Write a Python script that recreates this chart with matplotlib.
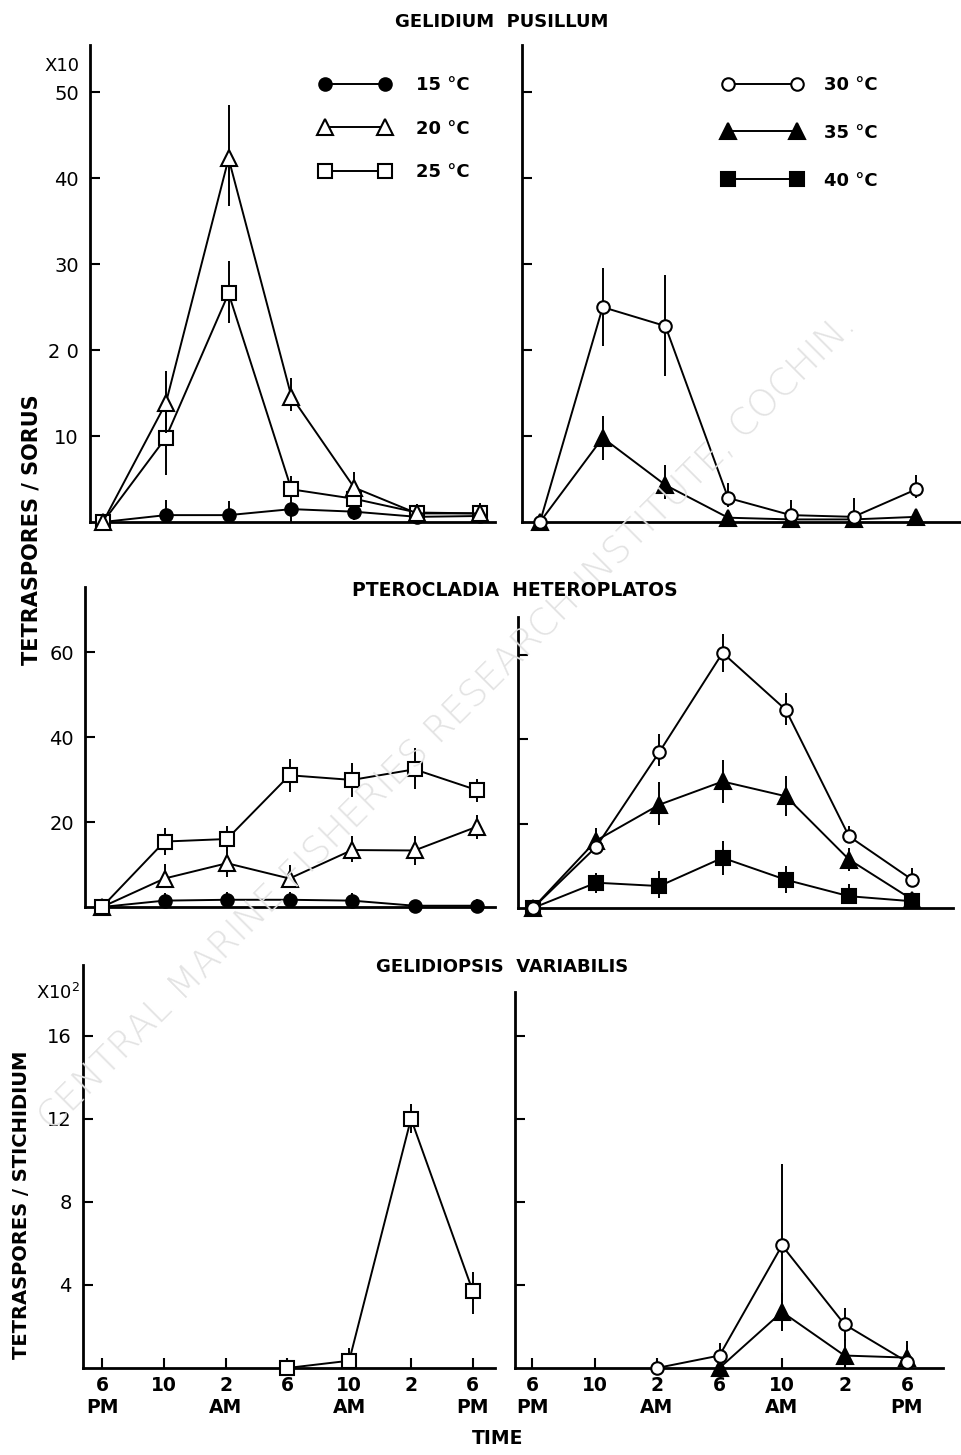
import numpy as np
import matplotlib
matplotlib.use("Agg")
import matplotlib.pyplot as plt
from matplotlib.lines import Line2D

plt.rcParams['font.family'] = ['DejaVu Sans']

nan = np.nan
times = ["6\nPM", "10", "2\nAM", "6", "10\nAM", "2", "6\nPM"]
temps = ["15 °C", "20 °C", "25 °C", "30 °C", "35 °C", "40 °C"]

# Gelidium pusillum (x10 tetraspores / sorus)
gp_15 = [0, 0.8, 0.8, 1.5, 1.2, 0.6, 0.7]
gp_15_up = [0, 1.8, 1.6, 1.3, 1.0, 1.0, 1.3]
gp_15_dn = [0, 0.8, 0.8, 1.5, 1.0, 0.6, 0.7]
gp_20 = [0, 13.8, 42.3, 14.6, 4.0, 1.0, 1.0]
gp_20_up = [0, 3.8, 6.2, 2.1, 1.8, 1.0, 1.2]
gp_20_dn = [0, 3.5, 5.5, 1.7, 1.0, 0.8, 0.8]
gp_25 = [0, 9.8, 26.6, 3.8, 2.7, 1.1, 1.0]
gp_25_up = [0, 4.0, 3.8, 1.5, 1.2, 1.0, 1.0]
gp_25_dn = [0, 4.3, 3.5, 1.0, 1.0, 0.8, 0.8]
gp_30 = [0, 25.0, 22.8, 2.8, 0.8, 0.6, 3.8]
gp_30_up = [0, 4.5, 5.9, 1.7, 1.8, 2.2, 1.7]
gp_30_dn = [0, 4.5, 5.8, 1.0, 0.8, 0.6, 1.0]
gp_35 = [0, 9.8, 4.3, 0.5, 0.3, 0.3, 0.6]
gp_35_up = [0, 2.5, 2.3, 0.6, 0.3, 0.3, 0.6]
gp_35_dn = [0, 2.6, 1.6, 0.5, 0.3, 0.3, 0.6]

# Pterocladia heteroplatos (tetraspores / sorus)
ph_15 = [0, 1.5, 1.7, 1.7, 1.5, 0.3, 0.3]
ph_15_up = [0, 1.8, 1.8, 1.8, 1.8, 1.2, 1.5]
ph_15_dn = [0, 1.5, 1.7, 1.7, 1.5, 0.3, 0.3]
ph_20 = [0, 6.7, 10.3, 6.7, 13.4, 13.3, 18.9]
ph_20_up = [0, 3.4, 3.1, 3.1, 3.2, 3.5, 2.8]
ph_20_dn = [0, 2.0, 3.2, 2.0, 2.8, 3.5, 2.8]
ph_25 = [0, 15.4, 16.0, 31.0, 29.9, 32.4, 27.5]
ph_25_up = [0, 3.1, 3.1, 3.9, 3.9, 5.0, 2.7]
ph_25_dn = [0, 3.1, 2.8, 3.9, 3.9, 4.6, 2.8]
ph_30 = [0, 14.5, 37.0, 60.5, 47.0, 17.0, 6.7]
ph_30_up = [0, 1.5, 4.3, 4.5, 4.0, 2.4, 2.8]
ph_30_dn = [0, 1.5, 3.3, 4.6, 3.6, 1.5, 1.5]
ph_35 = [0, 16.0, 24.5, 30.0, 26.5, 11.5, 2.0]
ph_35_up = [0, 3.0, 5.4, 5.2, 4.7, 2.8, 1.0]
ph_35_dn = [0, 2.0, 4.8, 5.2, 4.7, 2.8, 1.0]
ph_40 = [0, 6.0, 5.2, 11.9, 6.7, 2.8, 1.6]
ph_40_up = [0, 2.3, 3.5, 4.0, 3.2, 2.8, 1.0]
ph_40_dn = [0, 2.4, 2.8, 4.0, 3.1, 1.5, 1.0]

# Gelidiopsis variabilis (x10^2 tetraspores / stichidium)
gv_25 = [nan, nan, nan, 0, 0.35, 12.0, 3.7]
gv_25_up = [0, 0, 0, 0, 0.6, 0.7, 0.9]
gv_25_dn = [0, 0, 0, 0, 0.3, 0.7, 1.1]
gv_30 = [nan, nan, 0, 0.6, 5.9, 2.1, 0.3]
gv_30_up = [0, 0, 0.2, 0.6, 3.9, 0.8, 0.8]
gv_30_dn = [0, 0, 0, 0.4, 4.1, 0.8, 0.3]
gv_35 = [nan, nan, nan, 0, 2.7, 0.6, 0.5]
gv_35_up = [0, 0, 0, 0, 0.9, 0.8, 0.8]
gv_35_dn = [0, 0, 0, 0, 0.85, 0.6, 0.5]

styles = {
    "15 °C": dict(marker='o', mfc='black', ms=9),
    "20 °C": dict(marker='^', mfc='white', ms=11),
    "25 °C": dict(marker='s', mfc='white', ms=10),
    "30 °C": dict(marker='o', mfc='white', ms=9),
    "35 °C": dict(marker='^', mfc='black', ms=11),
    "40 °C": dict(marker='s', mfc='black', ms=10),
}

W, H = 961, 1455
fig = plt.figure(figsize=(W / 100, H / 100), dpi=100)

def make_ax(L, R, T, B, p0, s, ytop):
    ax = fig.add_axes([L / W, 1 - B / H, (R - L) / W, (B - T) / H])
    ax.set_xlim((L - p0) / s, (R - p0) / s)
    ax.set_ylim(0, ytop)
    for sp in ['top', 'right']:
        ax.spines[sp].set_visible(False)
    for sp in ['left', 'bottom']:
        ax.spines[sp].set_linewidth(2.0)
    ax.tick_params(direction='in', width=1.5, length=7, labelsize=14, pad=8)
    return ax

x = np.arange(len(times))

def series(ax, y, dn, up, label, z):
    st = styles[label]
    y = np.array(y, dtype=float)
    ax.errorbar(x, y, yerr=[dn, up], fmt='none', ecolor='black', elinewidth=1.4,
                capsize=0, zorder=z, clip_on=False)
    ax.plot(x, y, color='black', lw=1.4, marker=st['marker'], ms=st['ms'],
            mfc=st['mfc'], mec='black', mew=1.5, zorder=z + 1, clip_on=False,
            label=label)

ax_tl = make_ax(90, 495, 45, 522, 103, 62.8, 55.5)
ax_tr = make_ax(522, 960, 45, 522, 540, 62.7, 55.5)
ax_ml = make_ax(85, 495, 587, 907, 102, 62.5, 75.3)
ax_mr = make_ax(518, 953, 617, 908, 533, 63.2, 69)
ax_bl = make_ax(83, 495, 965, 1368, 102, 61.8, 19.4)
ax_br = make_ax(515, 943, 992, 1368, 532, 62.5, 18.1)

for ax in (ax_tl, ax_tr):
    ax.set_yticks([10, 20, 30, 40, 50])
for ax in (ax_ml, ax_mr):
    ax.set_yticks([20, 40, 60])
for ax in (ax_bl, ax_br):
    ax.set_yticks([4, 8, 12, 16])
for ax in (ax_tl, ax_ml, ax_bl):
    ax.set_yticklabels([str(int(t)) if t != 20 or ax is not ax_tl else "2 0" for t in ax.get_yticks()])
for ax in (ax_tr, ax_mr, ax_br):
    ax.tick_params(axis='y', labelleft=False)
for ax in (ax_tl, ax_tr, ax_ml, ax_mr):
    ax.set_xticks([])
for ax in (ax_bl, ax_br):
    ax.set_xticks(x)
    ax.set_xticklabels(times, fontweight='bold', linespacing=1.2)
    ax.tick_params(axis='x', pad=6, labelsize=13.5)

series(ax_tl, gp_15, gp_15_dn, gp_15_up, "15 °C", 3)
series(ax_tl, gp_25, gp_25_dn, gp_25_up, "25 °C", 5)
series(ax_tl, gp_20, gp_20_dn, gp_20_up, "20 °C", 7)
series(ax_tr, gp_35, gp_35_dn, gp_35_up, "35 °C", 3)
series(ax_tr, gp_30, gp_30_dn, gp_30_up, "30 °C", 5)

series(ax_ml, ph_15, ph_15_dn, ph_15_up, "15 °C", 3)
series(ax_ml, ph_20, ph_20_dn, ph_20_up, "20 °C", 5)
series(ax_ml, ph_25, ph_25_dn, ph_25_up, "25 °C", 7)
series(ax_mr, ph_40, ph_40_dn, ph_40_up, "40 °C", 3)
series(ax_mr, ph_35, ph_35_dn, ph_35_up, "35 °C", 5)
series(ax_mr, ph_30, ph_30_dn, ph_30_up, "30 °C", 7)

series(ax_bl, gv_25, gv_25_dn, gv_25_up, "25 °C", 3)
series(ax_br, gv_35, gv_35_dn, gv_35_up, "35 °C", 3)
series(ax_br, gv_30, gv_30_dn, gv_30_up, "30 °C", 5)

def handles(labels):
    hs = []
    for lb in labels:
        st = styles[lb]
        hs.append(Line2D([], [], color='black', lw=1.4, marker=st['marker'], ms=st['ms'],
                         mfc=st['mfc'], mec='black', mew=1.5))
    return hs

ax_tl.legend(handles(temps[:3]), temps[:3], numpoints=2, frameon=False,
             loc='upper left', bbox_to_anchor=((320 - 90) / 405, (522 - 76) / 477),
             handlelength=3.9, handletextpad=1.4, labelspacing=1.42,
             borderaxespad=0, borderpad=0,
             prop=dict(size=13, weight='bold'))
ax_tr.legend(handles(temps[3:]), temps[3:], numpoints=2, frameon=False,
             loc='upper left', bbox_to_anchor=((723 - 522) / 438, (522 - 76) / 477),
             handlelength=4.4, handletextpad=1.2, labelspacing=1.65,
             borderaxespad=0, borderpad=0,
             prop=dict(size=13, weight='bold'))

def ft(xp, yp, s, **kw):
    fig.text(xp / W, 1 - yp / H, s, **kw)

ft(502, 22, "GELIDIUM  PUSILLUM", ha='center', va='center', fontsize=13, fontweight='bold')
ft(515, 590, "PTEROCLADIA  HETEROPLATOS", ha='center', va='center', fontsize=13.5, fontweight='bold')
ft(502, 967, "GELIDIOPSIS  VARIABILIS", ha='center', va='center', fontsize=13, fontweight='bold')
ft(62, 66, "X10", ha='center', va='center', fontsize=13)
ft(58, 993, "X10$^2$", ha='center', va='center', fontsize=13)
ft(32, 530, "TETRASPORES / SORUS", ha='center', va='center', rotation=90, fontsize=15, fontweight='bold')
ft(22, 1205, "TETRASPORES / STICHIDIUM", ha='center', va='center', rotation=90, fontsize=14, fontweight='bold')
ft(498, 1438, "TIME", ha='center', va='center', fontsize=13.5, fontweight='bold')

# Watermark
ft(447, 722, "CENTRAL MARINE FISHERIES RESEARCH INSTITUTE, COCHIN.", ha='center', va='center',
   rotation=45, fontsize=27, color='#e3e3e3', fontweight='light', zorder=0)

fig.savefig("out.png", dpi=100)
